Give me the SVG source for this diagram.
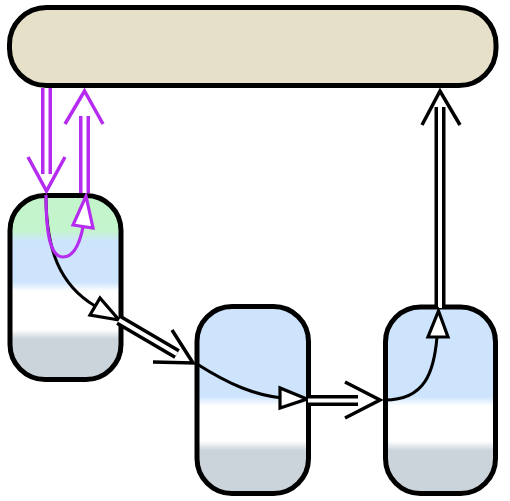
<svg xmlns="http://www.w3.org/2000/svg" width="510" height="501" viewBox="0 0 510 501">
<defs>
<linearGradient id="gL" x1="0" y1="0" x2="0" y2="1">
<stop offset="0" stop-color="#c4f4cc"/><stop offset="0.19" stop-color="#c4f4cc"/>
<stop offset="0.25" stop-color="#cde4fc"/><stop offset="0.47" stop-color="#cde4fc"/>
<stop offset="0.52" stop-color="#ffffff"/><stop offset="0.73" stop-color="#ffffff"/>
<stop offset="0.78" stop-color="#cbd3db"/><stop offset="1" stop-color="#cbd3db"/>
</linearGradient>
<linearGradient id="gB" x1="0" y1="0" x2="0" y2="1">
<stop offset="0" stop-color="#cde4fc"/><stop offset="0.48" stop-color="#cde4fc"/>
<stop offset="0.53" stop-color="#ffffff"/><stop offset="0.72" stop-color="#ffffff"/>
<stop offset="0.77" stop-color="#cbd3db"/><stop offset="1" stop-color="#cbd3db"/>
</linearGradient>
</defs>
<style>
.node{stroke:#000;stroke-width:5}
.dO{fill:none;stroke-width:11}
.dI{fill:none;stroke:#fff;stroke-width:4}
.chev{fill:none;stroke-width:3.5}
.crv{fill:none;stroke-width:3}
.tri{fill:#fff;stroke-width:3.2;stroke-linejoin:miter}
.k{stroke:#000}
.p{stroke:#b52cf0}
</style>
<g id="top"><rect class="node" x="9.5" y="7.5" width="486.5" height="78" rx="37" fill="#e6e0c8"/></g>
<g id="nodeA"><rect class="node" x="10" y="195.5" width="111" height="184" rx="35" fill="url(#gL)"/></g>
<g id="nodeB"><rect class="node" x="197" y="306.5" width="111.5" height="187" rx="35" fill="url(#gB)"/></g>
<g id="nodeC"><rect class="node" x="385.5" y="307" width="110" height="186.5" rx="35" fill="url(#gB)"/></g>
<g id="connectors">
<line class="dO p" x1="46.5" y1="88" x2="46.5" y2="174"/>
<line class="dI" x1="46.5" y1="88" x2="46.5" y2="174"/>
<polyline class="chev p" points="28,157 46.5,191 65,157"/>
<path class="crv k" d="M46,196 C46,250 60,285 95,306"/>
<path class="crv p" style="stroke-width:3.2" d="M46,195 C46,240 52,257 63,257 C74,257 80,242 83,227"/>
<polygon class="tri p" points="73,225 93,228 86,196"/>
<line class="dO p" x1="84.5" y1="193" x2="84.5" y2="116"/>
<line class="dI" x1="84.5" y1="193" x2="84.5" y2="116"/>
<polyline class="chev p" points="65,124 84.5,91 103,124"/>
<polygon class="tri k" points="90,315 100,298 119,320"/>
<line class="dO k" x1="119" y1="320" x2="177" y2="354"/>
<line class="dI" x1="119" y1="320" x2="177" y2="354"/>
<polyline class="chev k" points="172,330 193,363 153,362"/>
<path class="crv k" d="M197,364 C230,385 255,395 282,398"/>
<polygon class="tri k" points="280,388 280,408 307,399"/>
<line class="dO k" x1="308" y1="400.5" x2="358" y2="400.5"/>
<line class="dI" x1="308" y1="400.5" x2="358" y2="400.5"/>
<polyline class="chev k" points="345,382 380,400 345,418"/>
<path class="crv k" d="M385,400 C425,400 434,372 437,337"/>
<line class="dO k" x1="440" y1="308" x2="440" y2="107"/>
<line class="dI" x1="440" y1="308" x2="440" y2="107"/>
<polygon class="tri k" points="428,337 448,337 438.5,311"/>
<polyline class="chev k" points="422,125 440,91 460,125"/>
</g>
</svg>
